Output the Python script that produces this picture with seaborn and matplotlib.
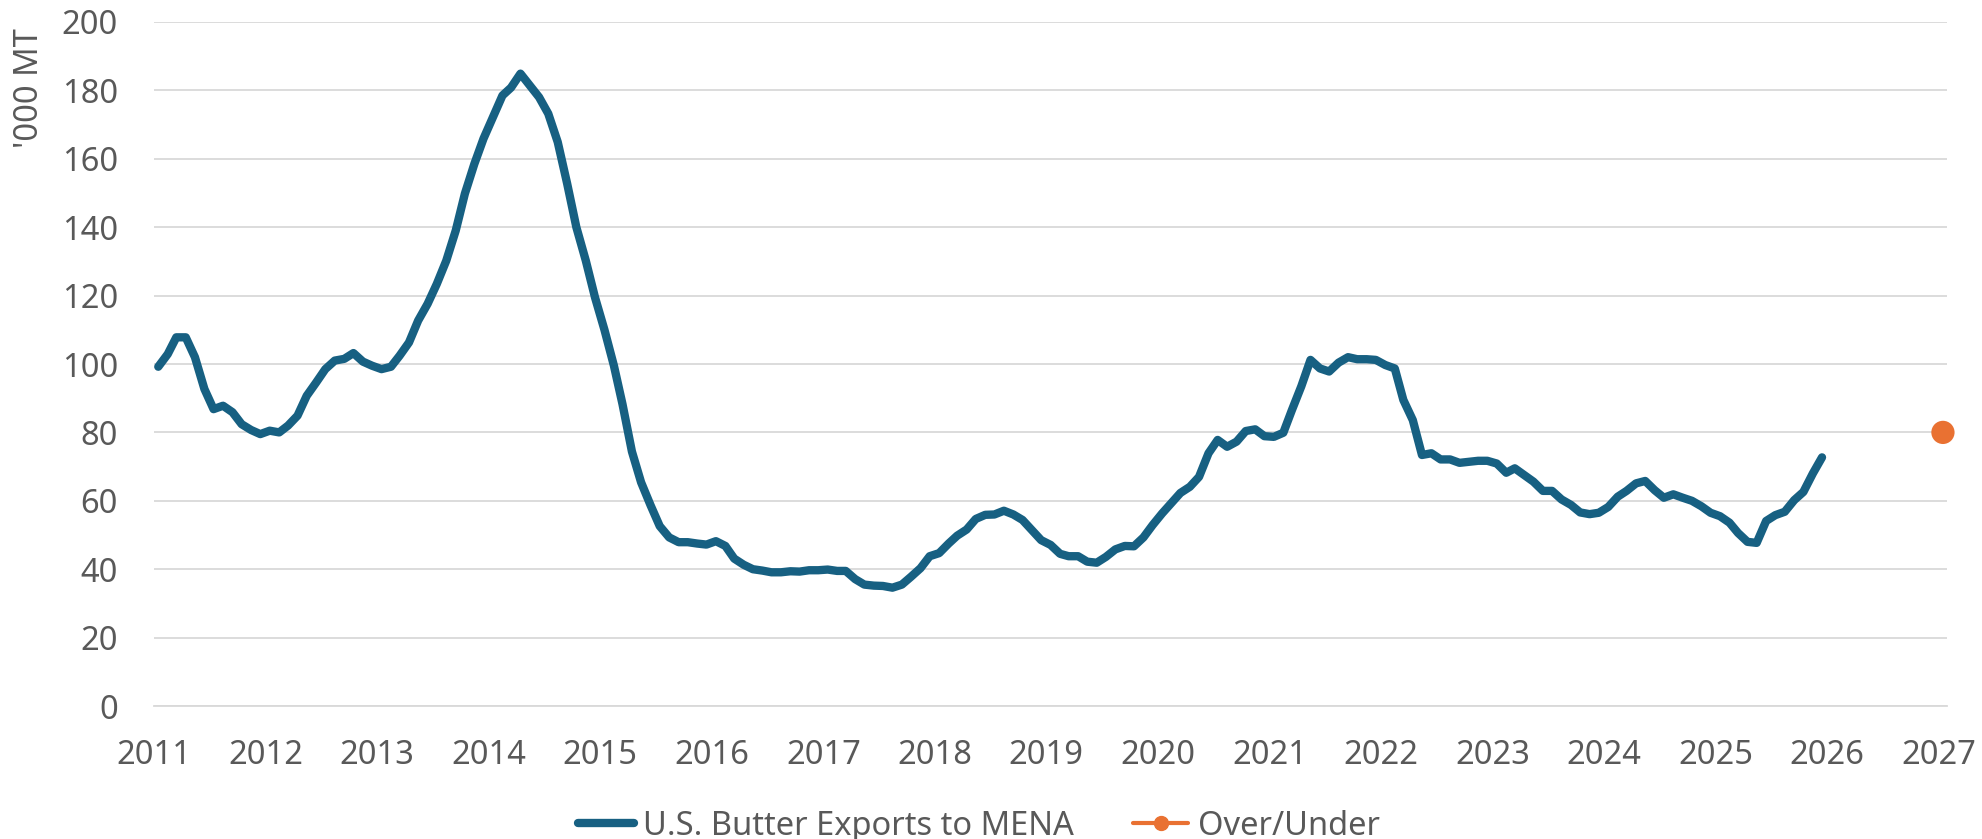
import matplotlib
matplotlib.use("Agg")
import matplotlib.pyplot as plt
import matplotlib.dates as mdates
from matplotlib.lines import Line2D
import pandas as pd
import seaborn as sns

# monthly U.S. butter exports to MENA ('000 MT), Jan 2011 - Dec 2025
exports_kmt = [
    99.2, 102.9, 107.8, 107.8, 102.0, 92.7, 86.8, 87.8, 85.9, 82.4, 80.7, 79.5,       # 2011
    80.5, 80.0, 82.0, 84.9, 90.7, 94.6, 98.5, 101.0, 101.5, 103.2, 100.7, 99.5,       # 2012
    98.5, 99.2, 102.4, 106.3, 112.7, 117.6, 123.4, 130.2, 139.0, 149.8, 158.5, 165.9, # 2013
    172.2, 178.5, 180.8, 184.9, 181.5, 178.0, 173.2, 164.9, 152.7, 140.0, 130.2, 119.5, # 2014
    110.0, 99.5, 88.3, 74.4, 65.4, 58.7, 52.6, 49.3, 47.9, 47.9, 47.5, 47.2,          # 2015
    48.2, 46.8, 43.1, 41.3, 40.0, 39.6, 39.1, 39.1, 39.4, 39.3, 39.7, 39.7,           # 2016
    39.9, 39.5, 39.5, 37.1, 35.5, 35.2, 35.1, 34.6, 35.5, 37.8, 40.3, 43.8,           # 2017
    44.7, 47.5, 49.8, 51.6, 54.7, 55.9, 56.0, 57.1, 56.0, 54.4, 51.4, 48.5,           # 2018
    47.1, 44.5, 43.8, 43.8, 42.2, 41.9, 43.6, 45.8, 46.8, 46.7, 49.3, 52.9,           # 2019
    56.3, 59.4, 62.3, 64.1, 67.0, 73.9, 77.8, 75.8, 77.3, 80.4, 80.9, 78.9,           # 2020
    78.7, 79.9, 86.5, 93.5, 101.2, 98.7, 97.8, 100.4, 102.0, 101.4, 101.4, 101.2,     # 2021
    99.7, 98.7, 89.5, 83.6, 73.4, 73.9, 72.1, 72.1, 71.1, 71.4, 71.7, 71.7,           # 2022
    70.9, 68.2, 69.5, 67.5, 65.6, 62.9, 62.9, 60.4, 58.8, 56.6, 56.1, 56.5,           # 2023
    58.2, 61.2, 62.9, 65.1, 65.8, 63.1, 60.9, 61.9, 60.9, 60.0, 58.4, 56.5,           # 2024
    55.5, 53.6, 50.6, 48.0, 47.7, 54.1, 55.8, 56.8, 60.2, 62.6, 68.0, 72.7,           # 2025
]
month_dates = pd.date_range("2011-01-01", periods=len(exports_kmt), freq="MS") + pd.Timedelta(days=14)

over_under_date = [pd.Timestamp("2027-01-15")]
over_under_value = [80]

series_labels = ["U.S. Butter Exports to MENA", "Over/Under"]
y_ticks = list(range(0, 201, 20))

BLUE = "#176082"
ORANGE = "#E97132"
GREY = "#595959"
GRID = "#d9d9d9"
FS = 23.5

sns.set_style("white")
plt.rcParams["font.family"] = ["Noto Sans", "DejaVu Sans"]

fig, ax = plt.subplots(figsize=(19.82, 8.39), dpi=100)
fig.subplots_adjust(left=0.0777, right=0.9823, bottom=0.1585, top=0.9738)

df = pd.DataFrame({"date": month_dates, "exports": exports_kmt})
sns.lineplot(data=df, x="date", y="exports", color=BLUE, linewidth=6,
             solid_capstyle="round", solid_joinstyle="round", ax=ax, zorder=3)
sns.scatterplot(x=over_under_date, y=over_under_value, color=ORANGE, s=280,
                edgecolor="none", clip_on=False, ax=ax, zorder=4)

ax.set_ylim(0, 200)
ax.set_yticks(y_ticks)
ax.set_xlim(pd.Timestamp("2011-01-01"), pd.Timestamp("2027-01-28"))
ax.xaxis.set_major_locator(mdates.YearLocator())
ax.xaxis.set_major_formatter(mdates.DateFormatter("%Y"))

ax.yaxis.grid(True, color=GRID, linewidth=1.3)
ax.xaxis.grid(False)
for side in ["top", "right", "left"]:
    ax.spines[side].set_visible(False)
ax.spines["bottom"].set_color(GRID)
ax.spines["bottom"].set_linewidth(1.3)

ax.tick_params(axis="x", length=8.5, width=1.3, color=GRID, labelcolor=GREY,
               labelsize=FS, pad=15.5)
ax.tick_params(axis="y", length=0, labelcolor=GREY, labelsize=FS, pad=26)
ax.set_xlabel("")
ax.set_ylabel("")

fig.text(30 / 1982, 1 - 28 / 839, "'000 MT", rotation=90, ha="center", va="top",
         fontsize=FS, color=GREY)

handles = [
    Line2D([], [], color=BLUE, lw=6, solid_capstyle="round"),
    Line2D([], [], color=ORANGE, lw=3, marker="o", markersize=10),
]
fig.legend(handles, series_labels, loc="center", bbox_to_anchor=(0.494, 0.015),
           ncol=2, frameon=False, fontsize=FS, labelcolor=GREY,
           handlelength=1.7, handletextpad=0.3, columnspacing=1.8)

fig.savefig("out.png", dpi=100)
